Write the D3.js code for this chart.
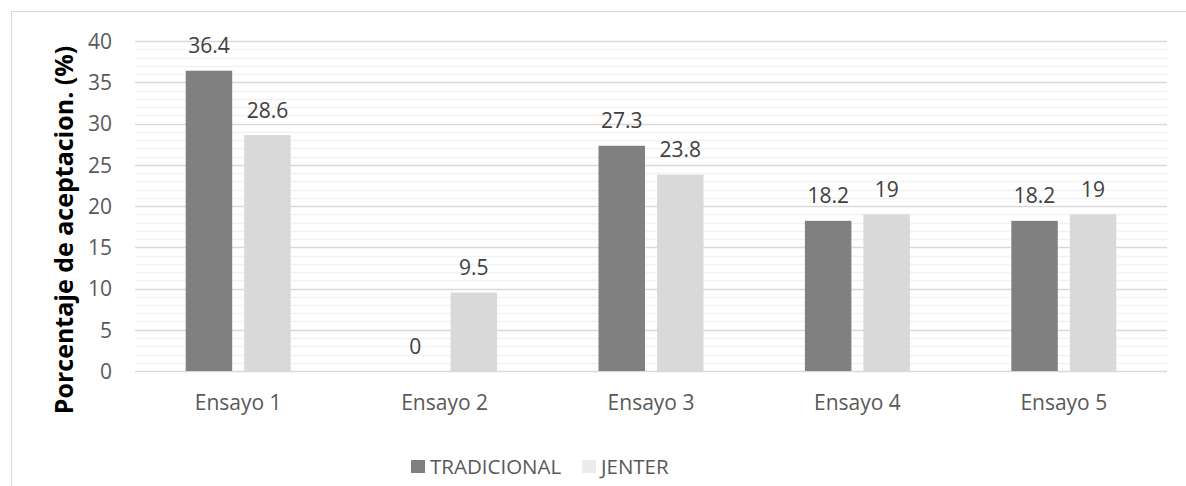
<!DOCTYPE html>
<html>
<head>
<meta charset="utf-8">
<script src="https://cdn.jsdelivr.net/npm/d3@7"></script>
<style>
  html, body { margin: 0; padding: 0; background: #fff; }
  svg { display: block; }
  text { font-family: "Open Sans", "Noto Sans", sans-serif; }
</style>
</head>
<body>
<svg id="chart" width="1186" height="486"></svg>
<script>
// Acceptance percentage per trial, two methods
const categories = ["Ensayo 1", "Ensayo 2", "Ensayo 3", "Ensayo 4", "Ensayo 5"];
const seriesNames = ["TRADICIONAL", "JENTER"];
const tradicional = [36.4, 0, 27.3, 18.2, 18.2];
const jenter = [28.6, 9.5, 23.8, 19, 19];
const yTicks = [0, 5, 10, 15, 20, 25, 30, 35, 40];
const yTitle = "Porcentaje de aceptacion. (%)";

const colors = ["#808080", "#d9d9d9"];
const legendColors = ["#808080", "#ececec"];

const svg = d3.select("#chart");
const W = 1186, H = 486;
const plot = { left: 135, right: 1167, top: 41, bottom: 371 };

// Outer chart frame (extends past the right/bottom edges)
svg.append("rect")
  .attr("x", 11.5).attr("y", 11.5)
  .attr("width", W + 20).attr("height", H + 20)
  .attr("fill", "#fff").attr("stroke", "#d9d9d9").attr("stroke-width", 1);

const x0 = d3.scaleBand().domain(categories).range([plot.left, plot.right]).paddingInner(0).paddingOuter(0);
const y = d3.scaleLinear().domain([0, 40]).range([plot.bottom, plot.top]);

// Minor gridlines every 1 unit
const minor = d3.range(0, 41, 1).filter(v => v % 5 !== 0);
svg.append("g").selectAll("line").data(minor).join("line")
  .attr("x1", plot.left).attr("x2", plot.right)
  .attr("y1", d => Math.round(y(d)) + 0.5).attr("y2", d => Math.round(y(d)) + 0.5)
  .attr("stroke", "#f2f2f2").attr("stroke-width", 1.5);

// Major gridlines
svg.append("g").selectAll("line").data(yTicks).join("line")
  .attr("x1", plot.left).attr("x2", plot.right)
  .attr("y1", d => Math.round(y(d)) + 0.5).attr("y2", d => Math.round(y(d)) + 0.5)
  .attr("stroke", "#d9d9d9").attr("stroke-width", 1.5);

// Y axis tick labels
const yAxis = d3.axisLeft(y).tickValues(yTicks).tickSize(0).tickPadding(0);
const gy = svg.append("g").attr("transform", `translate(112,0)`).call(yAxis);
gy.select(".domain").remove();
gy.selectAll("text")
  .attr("font-family", "\"Open Sans\", sans-serif")
  .attr("font-size", 21).attr("fill", "#595959").attr("dy", "0.35em");

// Bars
const barW = 46.5, gap = 12;
const series = [tradicional, jenter];
const groups = svg.append("g");
categories.forEach((c, i) => {
  const cx = x0(c) + x0.bandwidth() / 2;
  series.forEach((vals, s) => {
    const bx = cx + (s === 0 ? -gap / 2 - barW : gap / 2);
    const v = vals[i];
    groups.append("rect")
      .attr("x", bx).attr("width", barW)
      .attr("y", y(v)).attr("height", y(0) - y(v))
      .attr("fill", colors[s]);
    groups.append("text")
      .attr("x", bx + barW / 2).attr("y", y(v) - 17.5)
      .attr("text-anchor", "middle")
      .attr("font-size", 21).attr("fill", "#404040")
      .text(v);
  });
});

// X axis category labels
const xAxis = d3.axisBottom(x0).tickSize(0).tickPadding(0);
const gx = svg.append("g").attr("transform", `translate(0,${plot.bottom + 32})`).call(xAxis);
gx.select(".domain").remove();
gx.selectAll("text")
  .attr("font-family", "\"Open Sans\", sans-serif")
  .attr("font-size", 21).attr("fill", "#595959").attr("dy", "0.35em");

// Y axis title
svg.append("text")
  .attr("transform", `translate(73,230) rotate(-90)`)
  .attr("text-anchor", "middle")
  .attr("font-size", 25).attr("font-weight", "bold").attr("fill", "#000")
  .text(yTitle);

// Legend
const legend = svg.append("g");
const legendX = [411, 582];
seriesNames.forEach((n, i) => {
  legend.append("rect")
    .attr("x", legendX[i]).attr("y", 460).attr("width", 14).attr("height", 13)
    .attr("fill", legendColors[i]);
  legend.append("text")
    .attr("x", legendX[i] + 19).attr("y", 467).attr("dy", "0.35em")
    .attr("font-size", 20.5).attr("fill", "#595959")
    .text(n);
});
</script>
</body>
</html>
